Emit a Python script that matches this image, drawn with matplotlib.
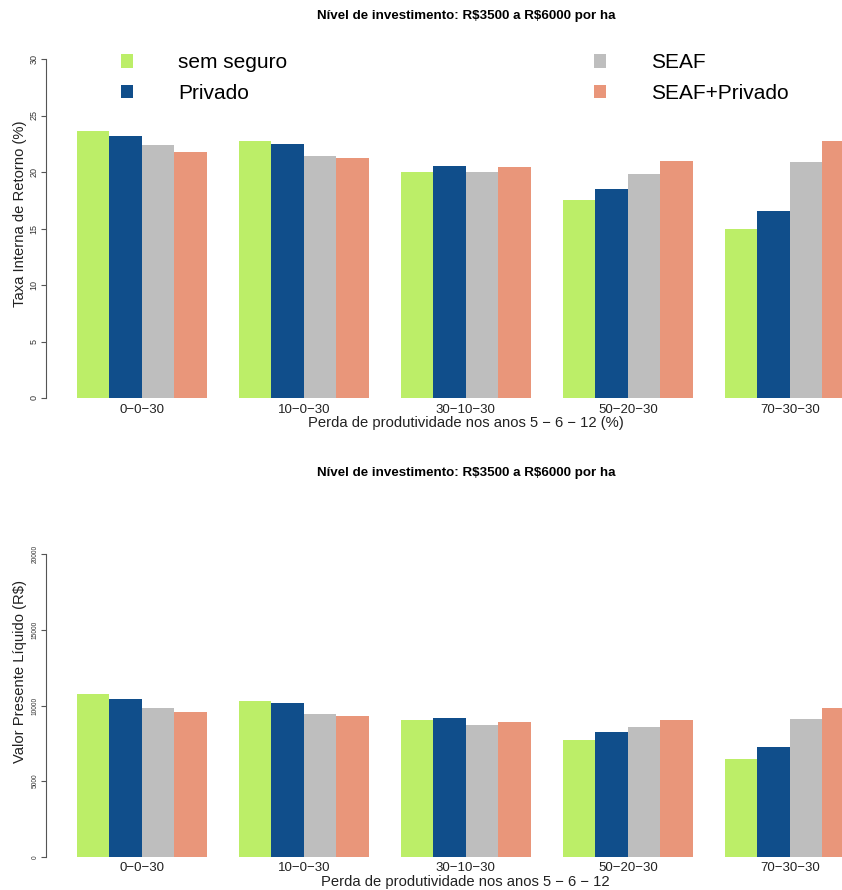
import numpy as np
import matplotlib
matplotlib.use("Agg")
import matplotlib.pyplot as plt
from matplotlib.patches import Patch

plt.rcParams['font.family'] = ['Liberation Sans', 'DejaVu Sans']

# data
cenarios = ['0\u22120\u221230', '10\u22120\u221230', '30\u221210\u221230', '50\u221220\u221230', '70\u221230\u221230']
series = ['sem seguro', 'Privado', 'SEAF', 'SEAF+Privado']
cores = ['#BCEE68', '#104E8B', '#BEBEBE', '#E9967A']

tir_sem = [23.65, 22.7, 20.0, 17.5, 14.95]
tir_priv = [23.2, 22.5, 20.5, 18.5, 16.55]
tir_seaf = [22.35, 21.45, 20.0, 19.85, 20.85]
tir_seaf_priv = [21.8, 21.2, 20.45, 20.95, 22.7]

vpl_sem = [10730, 10290, 9030, 7750, 6470]
vpl_priv = [10460, 10160, 9170, 8240, 7245]
vpl_seaf = [9850, 9470, 8740, 8610, 9120]
vpl_seaf_priv = [9600, 9300, 8900, 9070, 9850]

titulo = 'N\u00edvel de investimento: R\\$3500 a R\\$6000 por ha'

W, H = 842, 890
fig = plt.figure(figsize=(W / 100, H / 100), dpi=100)

# R barplot layout: bar width 1, one bar gap between groups, xlim 4% padded
x_left, x_right = 0.04, 25.96
ax_l = 45.9 / W
ax_w = (885.7 - 45.9) / W


def barras(ax, valores, ymax, passo, ylab, xlab, tick_fs, ylab_y):
    for j, vals in enumerate(valores):
        pos = [1 + 5 * i + j + 0.5 for i in range(len(vals))]
        ax.bar(pos, vals, width=1.0, color=cores[j], edgecolor='none', label=series[j])
    ax.set_xlim(x_left, x_right)
    ax.set_ylim(0, ymax)
    for s in ['top', 'right', 'bottom']:
        ax.spines[s].set_visible(False)
    ax.spines['left'].set_color('#555555')
    ax.spines['left'].set_linewidth(0.8)
    ax.set_yticks(np.arange(0, ymax + passo, passo))
    ax.set_yticklabels([str(int(v)) for v in np.arange(0, ymax + passo, passo)],
                       rotation=90, va='center', fontsize=tick_fs, color='#333333')
    ax.tick_params(axis='y', length=3.6, width=0.8, color='#555555', pad=1.5)
    ax.set_xticks([3 + 5 * i for i in range(len(cenarios))])
    ax.set_xticklabels(cenarios, fontsize=9.5, color='#222222')
    ax.tick_params(axis='x', length=0, pad=4)
    ax.set_xlabel(xlab, fontsize=10.6, color='#222222', labelpad=0.5)
    ax.set_ylabel(ylab, fontsize=10.6, color='#222222')
    ax.yaxis.set_label_coords(-0.023, ylab_y)


# top panel: TIR
ax1 = fig.add_axes([ax_l, 1 - 398 / H, ax_w, (398 - 59) / H])
barras(ax1, [tir_sem, tir_priv, tir_seaf, tir_seaf_priv], 30, 5,
       'Taxa Interna de Retorno (%)',
       'Perda de produtividade nos anos 5 \u2212 6 \u2212 12 (%)', 6.5, 0.544)
handles = [Patch(facecolor=c, edgecolor='none') for c in cores]
ax1.legend(handles, series, ncol=2, frameon=False, fontsize=15,
           loc='upper left', bbox_to_anchor=(0.067, 1.072),
           handlelength=0.6, handleheight=0.6, handletextpad=2.16,
           columnspacing=14.7, labelspacing=0.54)

# bottom panel: VPL
ax2 = fig.add_axes([ax_l, 1 - 856.7 / H, ax_w, (856.7 - 554.3) / H])
barras(ax2, [vpl_sem, vpl_priv, vpl_seaf, vpl_seaf_priv], 20000, 5000,
       'Valor Presente L\u00edquido (R\\$)',
       'Perda de produtividade nos anos 5 \u2212 6 \u2212 12', 4.8, 0.611)

cx = (45.9 + 885.7) / 2 / W
for yy in [16, 473]:
    fig.text(cx, 1 - yy / H, titulo, ha='center', va='center', fontsize=9.6,
             fontweight='bold', family=['Liberation Sans Narrow', 'Liberation Sans', 'DejaVu Sans'])

fig.savefig('out.png', dpi=100)
